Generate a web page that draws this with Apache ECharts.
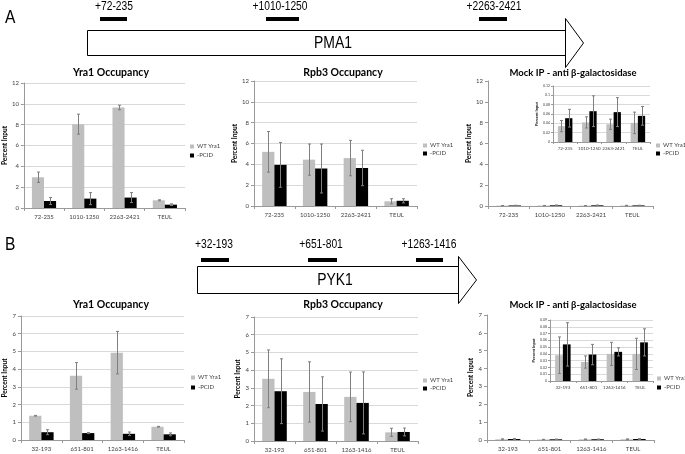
<!DOCTYPE html>
<html><head><meta charset="utf-8">
<script src="https://cdn.jsdelivr.net/npm/echarts@6/dist/echarts.min.js"></script>
<style>html,body{margin:0;padding:0;background:#fff}#c{width:685px;height:454px}</style>
</head><body><div id="c"></div>
<script>
// ---------- data ----------
const catsA = ['72-235', '1010-1250', '2263-2421', 'TEUL'];
const catsB = ['32-193', '651-801', '1263-1416', 'TEUL'];
const seriesNames = ['WT Yra1', '-PCID'];

const yra1A_wt = [2.95, 8.05, 9.65, 0.74];
const yra1A_wtErr = [0.5, 0.96, 0.22, 0.05];
const yra1A_pcid = [0.67, 0.9, 1.0, 0.32];
const yra1A_pcidErr = [0.33, 0.58, 0.48, 0.08];

const rpb3A_wt = [5.2, 4.45, 4.6, 0.45];
const rpb3A_wtErr = [1.95, 1.5, 1.7, 0.25];
const rpb3A_pcid = [3.95, 3.6, 3.65, 0.5];
const rpb3A_pcidErr = [2.15, 2.35, 1.7, 0.2];

const mockA_wt = [0.034, 0.042, 0.038, 0.041];
const mockA_wtErr = [0.012, 0.012, 0.011, 0.023];
const mockA_pcid = [0.051, 0.066, 0.064, 0.056];
const mockA_pcidErr = [0.019, 0.033, 0.031, 0.02];

const yra1B_wt = [1.37, 3.62, 4.93, 0.75];
const yra1B_wtErr = [0.02, 0.75, 1.2, 0.02];
const yra1B_pcid = [0.44, 0.39, 0.35, 0.32];
const yra1B_pcidErr = [0.14, 0.03, 0.1, 0.08];

const rpb3B_wt = [3.51, 2.77, 2.49, 0.49];
const rpb3B_wtErr = [1.63, 1.7, 1.4, 0.23];
const rpb3B_pcid = [2.81, 2.09, 2.15, 0.51];
const rpb3B_pcidErr = [1.83, 1.53, 1.75, 0.22];

const mockB_wt = [0.038, 0.028, 0.040, 0.040];
const mockB_wtErr = [0.027, 0.009, 0.017, 0.023];
const mockB_pcid = [0.054, 0.039, 0.043, 0.057];
const mockB_pcidErr = [0.032, 0.015, 0.006, 0.02];

const titles = ['Yra1 Occupancy', 'Rpb3 Occupancy', 'Mock IP - anti \u03b2-galactosidase'];
const yName = 'Percent Input';
const geneA = 'PMA1', geneB = 'PYK1';
const ampA = ['+72-235', '+1010-1250', '+2263-2421'];
const ampB = ['+32-193', '+651-801', '+1263-1416'];

// ---------- layout ----------
const GAP = 0.4;
const FONT = 'Lato, "Open Sans", sans-serif';
const GFONT = '"Liberation Sans", Arial, sans-serif';
const panels = [
  {cats: catsA, wt: yra1A_wt, wtE: yra1A_wtErr, pc: yra1A_pcid, pcE: yra1A_pcidErr, max: 12, step: 2,
   grid: {left: 21, top: 83, width: 164, height: 125}, gap: 12, legend: [190, 143.5, 3], split: true},
  {cats: catsA, wt: rpb3A_wt, wtE: rpb3A_wtErr, pc: rpb3A_pcid, pcE: rpb3A_pcidErr, max: 12, step: 2,
   grid: {left: 254, top: 81, width: 163, height: 125}, gap: 13, legend: [423, 142.5, 2], split: true},
  {cats: catsA, wt: mockA_wt, wtE: mockA_wtErr, pc: mockA_pcid, pcE: mockA_pcidErr, max: 12, step: 2,
   grid: {left: 488, top: 81, width: 165, height: 125}, gap: 13, legend: [656, 142.5, 2], split: false},
  {cats: catsA, wt: mockA_wt, wtE: mockA_wtErr, pc: mockA_pcid, pcE: mockA_pcidErr, max: 0.12, step: 0.02,
   grid: {left: 553, top: 86, width: 97, height: 56}, gap: 6, inset: true, split: true},
  {cats: catsB, wt: yra1B_wt, wtE: yra1B_wtErr, pc: yra1B_pcid, pcE: yra1B_pcidErr, max: 7, step: 1,
   grid: {left: 21, top: 316, width: 163, height: 124}, gap: 12, legend: [191, 374.5, 4], split: true},
  {cats: catsB, wt: rpb3B_wt, wtE: rpb3B_wtErr, pc: rpb3B_pcid, pcE: rpb3B_pcidErr, max: 7, step: 1,
   grid: {left: 254, top: 317, width: 164, height: 124}, gap: 13, legend: [423, 377.5, 2], split: true},
  {cats: catsB, wt: mockB_wt, wtE: mockB_wtErr, pc: mockB_pcid, pcE: mockB_pcidErr, max: 7, step: 1,
   grid: {left: 487, top: 315, width: 167, height: 125}, gap: 13, legend: [657, 375.5, 3], split: false},
  {cats: catsB, wt: mockB_wt, wtE: mockB_wtErr, pc: mockB_pcid, pcE: mockB_pcidErr, max: 0.09, step: 0.01,
   grid: {left: 550, top: 320, width: 103, height: 61}, gap: 6, inset: true, split: true}
];

function errRender(sign) {
  return function (params, api) {
    const i = api.value(0), v = api.value(1), e = api.value(2);
    const cw = api.size([1, 0])[0];
    const bw = cw * (1 - GAP) / 2;
    const x = Math.round(api.coord([i, v])[0] + sign * bw / 2) + 0.5;
    const yh = api.coord([i, v + e])[1];
    const yl = api.coord([i, Math.max(v - e, 0)])[1];
    const st = {stroke: '#7f7f7f', lineWidth: 1};
    const cap = 1.5;
    return {type: 'group', children: [
      {type: 'line', shape: {x1: x, y1: yh, x2: x, y2: yl}, style: st},
      {type: 'line', shape: {x1: x - cap, y1: yh, x2: x + cap, y2: yh}, style: st},
      {type: 'line', shape: {x1: x - cap, y1: yl, x2: x + cap, y2: yl}, style: st}
    ]};
  };
}

const grid = [], xAxis = [], yAxis = [], series = [], legend = [];
panels.forEach((p, k) => {
  const small = !!p.inset;
  grid.push(Object.assign({show: false, containLabel: false}, p.grid));
  xAxis.push({type: 'category', gridIndex: k, data: p.cats,
    axisLine: {lineStyle: {color: '#9a9a9a'}},
    axisTick: {show: true, length: small ? 2 : 3, lineStyle: {color: '#9a9a9a'}},
    axisLabel: {fontSize: small ? 4.5 : 6, color: '#404040', margin: small ? 4 : 6, interval: 0, fontFamily: FONT}});
  yAxis.push({type: 'value', gridIndex: k, min: 0, max: p.max, interval: p.step,
    name: yName, nameLocation: 'middle', nameGap: p.gap,
    nameTextStyle: {fontSize: small ? 4 : 6.5, fontWeight: 'bold', color: '#000', fontFamily: FONT},
    axisLine: {show: true, lineStyle: {color: '#9a9a9a'}},
    axisTick: {show: true, length: small ? 2 : 3, lineStyle: {color: '#9a9a9a'}},
    axisLabel: {fontSize: small ? 3.5 : 6, color: '#404040', margin: small ? 3 : 5, fontFamily: FONT},
    splitLine: {show: p.split, lineStyle: {color: '#d9d9d9', width: 1}}});
  series.push({type: 'bar', name: seriesNames[0], xAxisIndex: k, yAxisIndex: k, data: p.wt,
    itemStyle: {color: '#bfbfbf'}, barGap: '0%', barCategoryGap: (GAP * 100) + '%', z: 2, animation: false});
  series.push({type: 'bar', name: seriesNames[1], xAxisIndex: k, yAxisIndex: k, data: p.pc,
    itemStyle: {color: '#000'}, barGap: '0%', barCategoryGap: (GAP * 100) + '%', z: 2, animation: false});
  series.push({type: 'custom', name: 'errWT' + k, xAxisIndex: k, yAxisIndex: k, renderItem: errRender(-1),
    data: p.wt.map((v, i) => [i, v, p.wtE[i]]), encode: {x: 0, y: 1}, z: 5, clip: false, silent: true, animation: false});
  series.push({type: 'custom', name: 'errPC' + k, xAxisIndex: k, yAxisIndex: k, renderItem: errRender(1),
    data: p.pc.map((v, i) => [i, v, p.pcE[i]]), encode: {x: 0, y: 1}, z: 5, clip: false, silent: true, animation: false});
  if (p.legend) {
    legend.push({data: seriesNames, orient: 'vertical', left: p.legend[0], top: p.legend[1], itemGap: p.legend[2],
      icon: 'rect', itemWidth: 4, itemHeight: 4, selectedMode: false, padding: 0,
      textStyle: {fontSize: 6, color: '#404040', fontFamily: FONT, padding: [0, 0, 0, -2]}});
  }
});

// ---------- decorations (gene diagrams, titles) ----------
const txt = (t, x, y, size, weight, fam, align, sx) => ({type: 'text', silent: true, z: 10,
  x: x, y: y, scaleX: sx || 1,
  style: {text: t, x: 0, y: 0, textAlign: align || 'center', textVerticalAlign: 'middle',
    font: (weight || 'normal') + ' ' + size + 'px ' + fam, fill: '#000'}});
const rect = (x, y, w, h, fill, stroke, lw) => ({type: 'rect', silent: true, z: 9,
  shape: {x: x, y: y, width: w, height: h}, style: {fill: fill, stroke: stroke || null, lineWidth: lw || 0}});
const tri = (pts) => ({type: 'polygon', silent: true, z: 9, shape: {points: pts},
  style: {fill: '#fff', stroke: '#000', lineWidth: 1}});

const S = 0.82;
const titleXs = [111, 343, 573];
const graphic = [
  txt('A', 5, 18, 19, 'normal', GFONT, 'left', S),
  txt(ampA[0], 114, 7, 12.5, 'normal', GFONT, 'center', S),
  txt(ampA[1], 280, 7, 12.5, 'normal', GFONT, 'center', S),
  txt(ampA[2], 494, 7, 12.5, 'normal', GFONT, 'center', S),
  rect(100, 17, 27, 4, '#000'),
  rect(266, 17, 33, 4, '#000'),
  rect(479, 17, 28, 4, '#000'),
  rect(87.5, 30.5, 478, 25, '#fff', '#000', 1),
  tri([[565.5, 18.5], [583.5, 43], [565.5, 67.5]]),
  txt(geneA, 333, 43, 17, 'normal', GFONT, 'center', S),

  txt('B', 5, 245, 19, 'normal', GFONT, 'left', S),
  txt(ampB[0], 214, 245, 12.5, 'normal', GFONT, 'center', S),
  txt(ampB[1], 321, 245, 12.5, 'normal', GFONT, 'center', S),
  txt(ampB[2], 429, 245, 12.5, 'normal', GFONT, 'center', S),
  rect(201, 258, 28, 4, '#000'),
  rect(308, 258, 29, 4, '#000'),
  rect(416, 258, 27, 4, '#000'),
  rect(197.5, 266.5, 261, 27, '#fff', '#000', 1),
  tri([[458.5, 256.5], [476.5, 280], [458.5, 303.5]]),
  txt(geneB, 335, 280, 17, 'normal', GFONT, 'center', S)
];
titles.forEach((t, i) => {
  const fs = i === 2 ? 9.5 : 10.5;
  graphic.push(txt(t, titleXs[i], 73, fs, 'bold', FONT));
  graphic.push(txt(t, titleXs[i], 305, fs, 'bold', FONT));
});

const chart = echarts.init(document.getElementById('c'), null, {renderer: 'canvas'});
chart.setOption({animation: false, backgroundColor: '#fff', grid, xAxis, yAxis, series, legend, graphic});
</script></body></html>
